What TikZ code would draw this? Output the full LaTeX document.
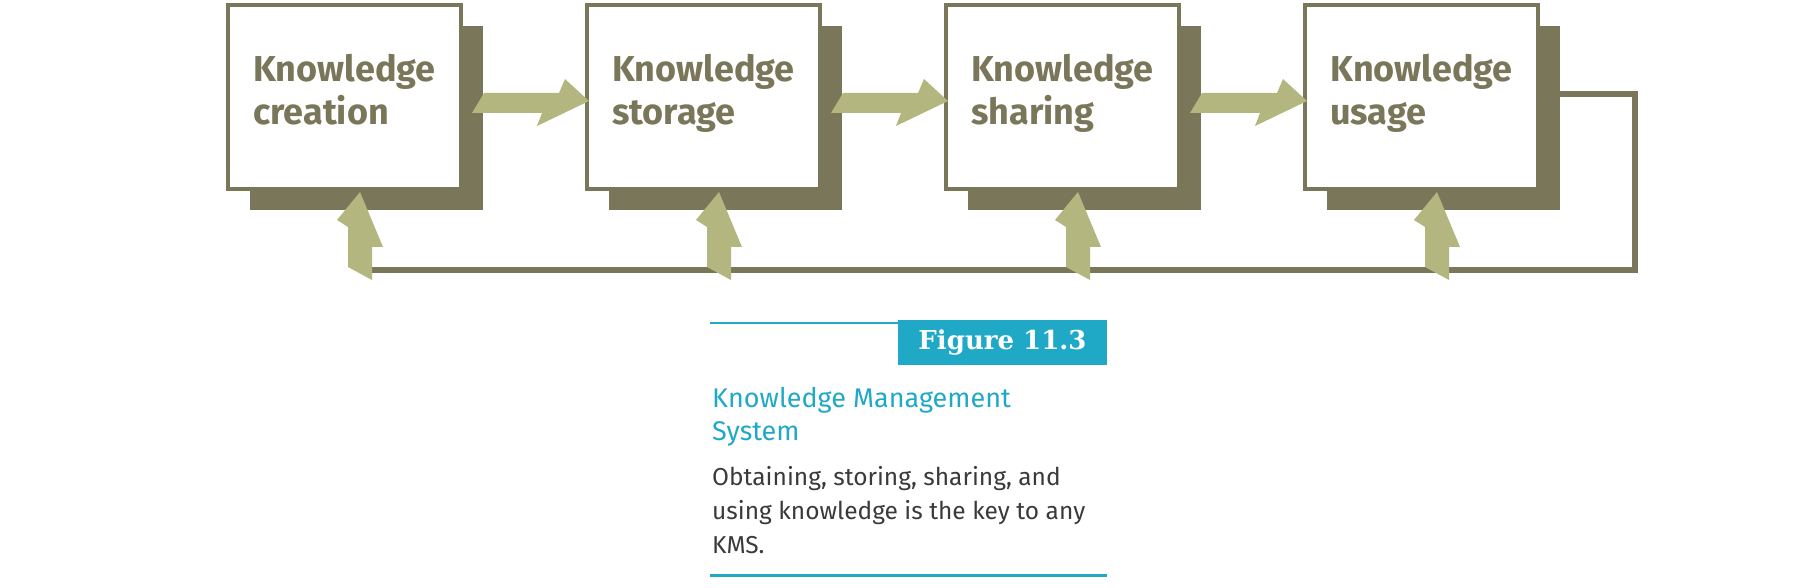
\documentclass[tikz,border=0pt]{standalone}
\usepackage{fontspec}
\setsansfont{Fira Sans}
\newfontfamily\figfont{DejaVu Serif}
\usetikzlibrary{positioning,calc,shadows}
\definecolor{drab}{HTML}{7A765A}
\definecolor{sage}{HTML}{B3B77F}
\definecolor{kmsblue}{HTML}{20A9C6}
\definecolor{bodygray}{HTML}{3A3A3A}
\tikzset{
  kbox/.style={draw=drab, line width=4pt, fill=white, minimum width=233pt, minimum height=184pt, inner sep=0pt,
    drop shadow={shadow xshift=22pt, shadow yshift=-21pt, fill=drab, opacity=1}},
  klabel/.style={anchor=base west, inner sep=0pt, align=left, text=drab, font=\sffamily\bfseries\fontsize{36}{43}\selectfont},
  loopline/.style={drab, line width=6pt},
  fwdarrow/.pic={\fill[sage] (0,0) -- (-24,-22) -- (-30,-8) -- (-105,-8) -- (-117,12) -- (-47,12) -- (-52,25) -- cycle;},
  uparrow/.pic={\fill[sage] (0,0) -- (23,55) -- (12,55) -- (12,88) -- (-12,75) -- (-12,35) -- (-23,28) -- cycle;},
  figtag/.style={fill=kmsblue, text=white, minimum width=209pt, minimum height=45pt, inner sep=0pt, font=\figfont\bfseries\fontsize{26}{26}\selectfont},
  captitle/.style={anchor=base west, inner sep=0pt, align=left, text=kmsblue, font=\sffamily\fontsize{27}{33}\selectfont},
  capbody/.style={anchor=base west, inner sep=0pt, align=left, text=bodygray, font=\sffamily\fontsize{24.5}{34}\selectfont}
}
\begin{document}
\begin{tikzpicture}[x=1pt, y=-1pt, node distance=122pt]

    \useasboundingbox (0,0) rectangle (1794,588);

    \node[kbox] (b1) at (344.5,97) {};
    \node[kbox, right=of b1] (b2) {};
    \node[kbox, right=of b2] (b3) {};
    \node[kbox, right=of b3] (b4) {};

    \node[klabel] (t1) at ($(b1.north west)+(27,122)$) {Knowledge\\creation};
    \node[klabel] (t2) at ($(b2.north west)+(27,122)$) {Knowledge\\storage};
    \node[klabel] (t3) at ($(b3.north west)+(27,122)$) {Knowledge\\sharing};
    \node[klabel] (t4) at ($(b4.north west)+(27,122)$) {Knowledge\\usage};

    \coordinate (fbend) at ($(b1.south west)+(134,79)$);
    \draw[loopline] ([yshift=3pt]b4.east) -- ++(95,0) |- (fbend);

    \pic at ($(b2.west)+(4,4)$) {fwdarrow};
    \pic at ($(b3.west)+(4,4)$) {fwdarrow};
    \pic at ($(b4.west)+(4,4)$) {fwdarrow};

    \foreach \b in {b1,b2,b3,b4}
        \pic at ($(\b.south west)+(134,1)$) {uparrow};

    \draw[kmsblue, line width=2pt] (710,323) -- (1107,323);
    \node[figtag] (fig) at (1002.5,342.5) {Figure 11.3};
    \node[captitle] (title) at (712,440) {Knowledge Management\\System};
    \node[capbody] (body) at (712,553) {Obtaining, storing, sharing, and\\using knowledge is the key to any\\KMS.};
    \draw[kmsblue, line width=3pt] (710,575) -- (1107,575);

\end{tikzpicture}
\end{document}
